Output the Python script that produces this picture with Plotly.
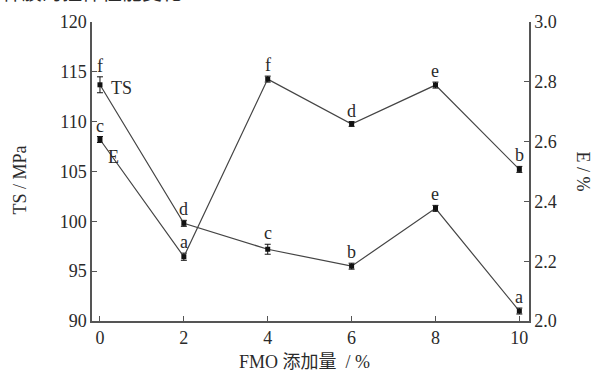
import plotly.graph_objects as go

# FMO addition level (%)
fmo = [0, 2, 4, 6, 8, 10]

# Tensile strength (MPa), left axis
ts_values = [113.7, 99.8, 97.2, 95.5, 101.3, 91.0]
ts_errors = [0.8, 0.3, 0.5, 0.3, 0.3, 0.3]
ts_letters = ["f", "d", "c", "b", "e", "a"]

# Elongation at break (%), right axis
e_values = [2.607, 2.215, 2.809, 2.659, 2.789, 2.507]
e_errors = [0.010, 0.012, 0.010, 0.008, 0.010, 0.010]
e_letters = ["c", "a", "f", "d", "e", "b"]

x_ticks = [0, 2, 4, 6, 8, 10]
ts_ticks = [90, 95, 100, 105, 110, 115, 120]
e_ticks = [2.0, 2.2, 2.4, 2.6, 2.8, 3.0]

SERIF = "'Times New Roman', 'Liberation Serif', 'Noto Sans CJK SC', serif"
INK = "#2a2a2a"
LINE = "#444444"

fig = go.Figure()

fig.add_trace(go.Scatter(
    x=fmo, y=ts_values, mode="lines+markers", name="TS",
    line=dict(color=LINE, width=1.2),
    marker=dict(symbol="square", size=5, color="#111111"),
    error_y=dict(type="data", array=ts_errors, color="#111111", thickness=1, width=3),
    yaxis="y", showlegend=False,
))
fig.add_trace(go.Scatter(
    x=fmo, y=e_values, mode="lines+markers", name="E",
    line=dict(color=LINE, width=1.2),
    marker=dict(symbol="square", size=5, color="#111111"),
    error_y=dict(type="data", array=e_errors, color="#111111", thickness=1, width=3),
    yaxis="y2", showlegend=False,
))

annotations = []
for xv, yv, er, lt in zip(fmo, ts_values, ts_errors, ts_letters):
    annotations.append(dict(x=xv, y=yv + er, xref="x", yref="y", text=lt,
                            showarrow=False, yanchor="middle", yshift=11,
                            font=dict(family=SERIF, size=18, color=INK)))
for xv, yv, er, lt in zip(fmo, e_values, e_errors, e_letters):
    annotations.append(dict(x=xv, y=yv + er, xref="x", yref="y2", text=lt,
                            showarrow=False, yanchor="middle", yshift=11,
                            font=dict(family=SERIF, size=18, color=INK)))

# series names next to their first points
annotations.append(dict(x=0.22, y=ts_values[0], xref="x", yref="y", text="TS",
                        showarrow=False, xanchor="left", yanchor="middle", yshift=-3,
                        font=dict(family=SERIF, size=18, color=INK)))
annotations.append(dict(x=0.15, y=e_values[0], xref="x", yref="y2", text="E",
                        showarrow=False, xanchor="left", yanchor="middle", yshift=-17,
                        font=dict(family=SERIF, size=18, color=INK)))

# axis titles
annotations.append(dict(x=0.487, y=0, xref="paper", yref="paper",
                        text="FMO 添加量  / %", showarrow=False,
                        xanchor="center", yanchor="middle", yshift=-41,
                        font=dict(family=SERIF, size=18, color=INK)))
annotations.append(dict(x=0, y=0.47, xref="paper", yref="paper", text="TS / MPa",
                        showarrow=False, textangle=-90, xanchor="center",
                        yanchor="middle", xshift=-72,
                        font=dict(family=SERIF, size=18, color=INK)))
annotations.append(dict(x=1, y=0.5, xref="paper", yref="paper", text="E / %",
                        showarrow=False, textangle=90, xanchor="center",
                        yanchor="middle", xshift=54,
                        font=dict(family=SERIF, size=18, color=INK)))

# caption above the chart, mostly cut off by the page edge
annotations.append(dict(x=0, y=1, xref="paper", yref="paper",
                        text="样膜的拉伸性能变化",
                        showarrow=False, xanchor="left", yanchor="bottom",
                        xshift=-92, yshift=16,
                        font=dict(family=SERIF, size=20, color=INK)))

axis_common = dict(
    showline=True, linecolor="#555555", linewidth=1.5,
    ticks="inside", ticklen=5, tickwidth=1, tickcolor="#555555",
    showgrid=False, zeroline=False, automargin=False,
    tickfont=dict(family=SERIF, size=18, color=INK),
)

fig.update_layout(
    width=595, height=374,
    margin=dict(l=92, r=66, t=22, b=53),
    paper_bgcolor="white", plot_bgcolor="white",
    xaxis=dict(range=[-0.19, 10.23], tickvals=x_ticks, ticklabelstandoff=0,
               **axis_common),
    yaxis=dict(range=[90, 120], tickvals=ts_ticks, **axis_common),
    yaxis2=dict(range=[2.0, 3.0], tickvals=e_ticks, tickformat=".1f",
                overlaying="y", side="right", **axis_common),
    annotations=annotations,
)

fig.write_html("out.html")
